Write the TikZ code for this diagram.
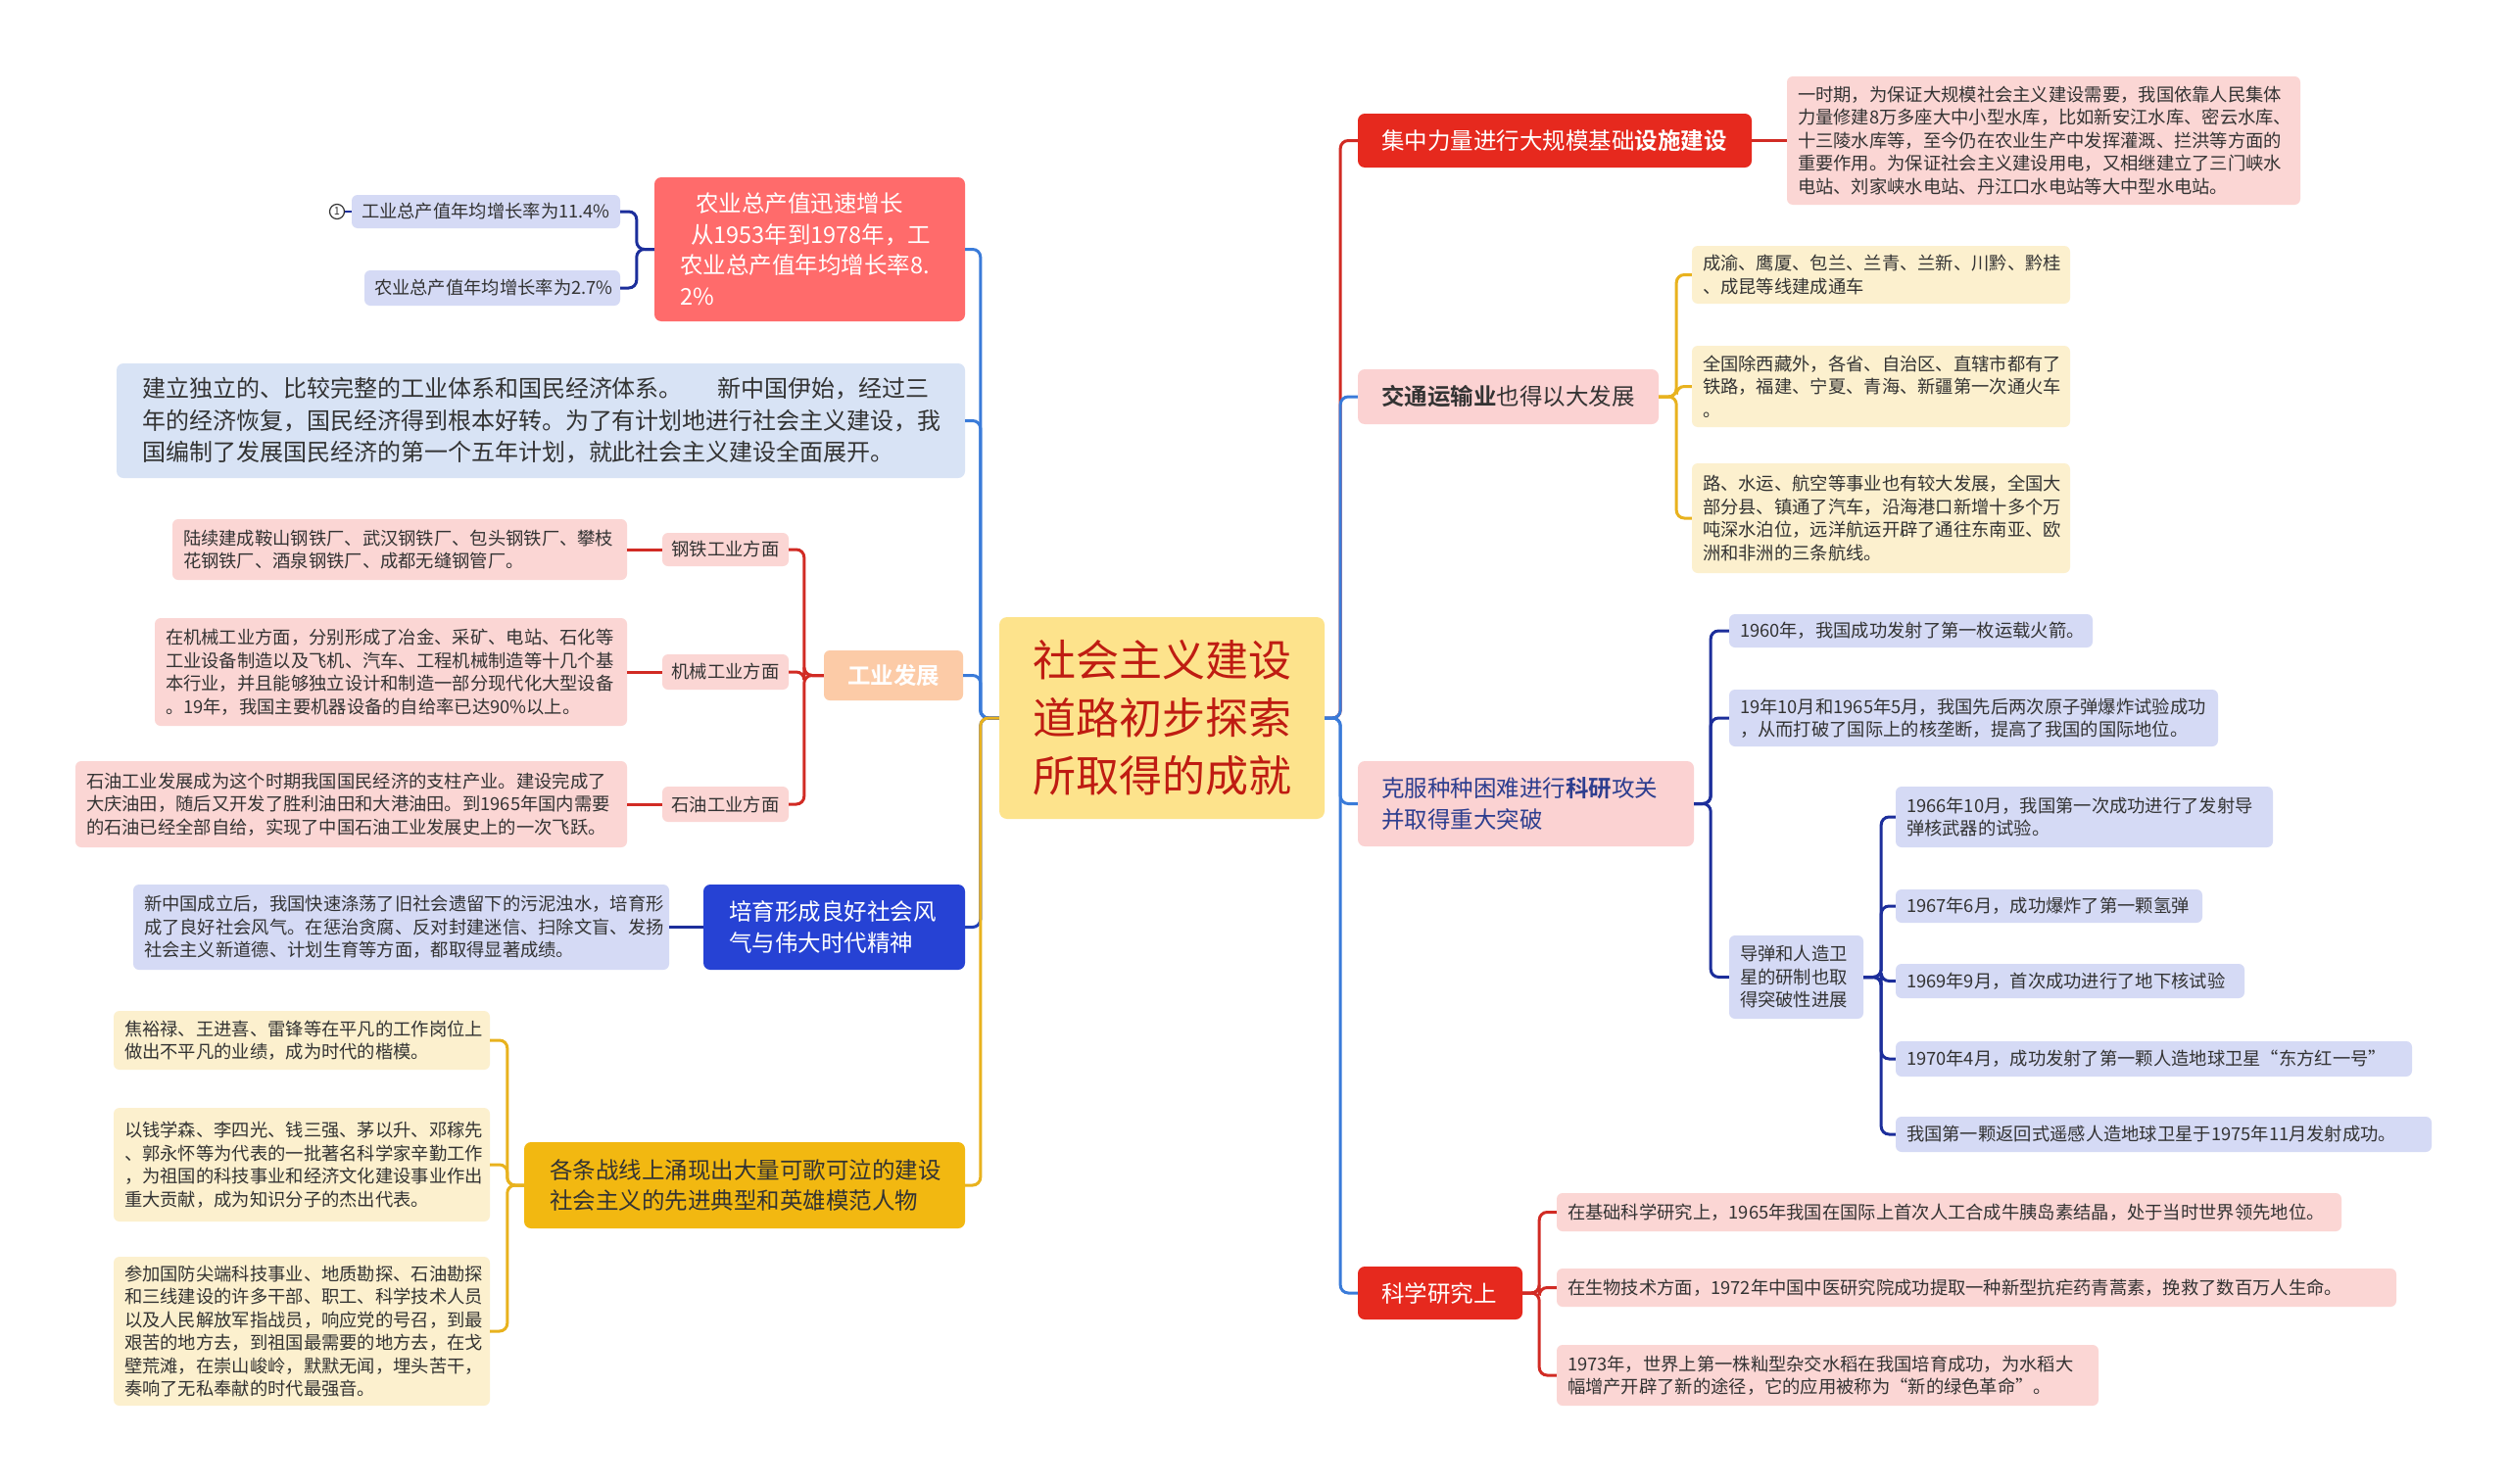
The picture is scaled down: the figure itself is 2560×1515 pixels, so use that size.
\documentclass[tikz,border=0pt]{standalone}
\usepackage{fontspec}
\setmainfont{Noto Sans CJK SC}[BoldFont={Noto Sans CJK SC Bold}]
\definecolor{centerfill}{HTML}{FDE38C}
\definecolor{centertext}{HTML}{BF1C12}
\definecolor{agrifill}{HTML}{FF6B6B}
\definecolor{lightblue}{HTML}{D8E3F5}
\definecolor{lavender}{HTML}{D5DAF5}
\definecolor{peachfill}{HTML}{FCCBA7}
\definecolor{pinkleaf}{HTML}{FBD6D4}
\definecolor{bluebig}{HTML}{2642D4}
\definecolor{goldfill}{HTML}{F2B811}
\definecolor{cream}{HTML}{FCF0CE}
\definecolor{redbig}{HTML}{E6291E}
\definecolor{pinkbig}{HTML}{FBD2D2}
\definecolor{textdark}{HTML}{333333}
\definecolor{kefutext}{HTML}{2D3E8F}
\definecolor{navyline}{HTML}{1C2E9B}
\definecolor{trunkblue}{HTML}{3A7BD9}
\definecolor{redline}{HTML}{D12B24}
\definecolor{goldline}{HTML}{E8B21E}
\definecolor{navytrunk}{HTML}{2040B8}
\newcommand\fsS{\fontsize{18.3}{23.5}\selectfont}
\newcommand\fsM{\fontsize{23.5}{31.5}\selectfont}
\newcommand\fsL{\fontsize{44}{59}\selectfont}
\newcommand\bx[8][10]{%
 \pgfmathsetmacro\bxw{#5-#3}%
 \pgfmathsetmacro\bxh{#6-#4}%
 \pgfmathsetmacro\bxtw{#5-#3-2*#1}%
 \pgfmathsetmacro\bxcx{(#3+#5)/2}%
 \pgfmathsetmacro\bxcy{(#4+#6)/2}%
 \node[#7, inner xsep=#1pt, minimum width=\bxw pt, minimum height=\bxh pt, text width=\bxtw pt] (#2) at (\bxcx,\bxcy) {#8};}
\tikzset{
 base/.style={rounded corners=6pt, inner ysep=0pt, align=left},
 leafpink/.style={base, fill=pinkleaf, text=textdark, font=\fsS},
 leaflav/.style={base, fill=lavender, text=textdark, font=\fsS},
 leafcream/.style={base, fill=cream, text=textdark, font=\fsS},
 midpink/.style={base, fill=pinkleaf, text=textdark, font=\fsS, align=center},
 conn/.style={line width=3pt, rounded corners=8pt},
}
\begin{document}
\begin{tikzpicture}[x=1pt,y=-1pt]
\useasboundingbox (0,0) rectangle (2560,1515);
\fill[white] (0,0) rectangle (2560,1515);

% center
\bx[12]{C}{1020}{630}{1352}{836}{base, rounded corners=8pt, fill=centerfill, text=centertext, font=\fsL, align=center}{社会主义建设\\道路初步探索\\所取得的成就}

% ---------- left side ----------
\bx[26]{L1}{668}{181}{985}{328}{base, rounded corners=7pt, fill=agrifill, text=white, font=\fsM}{\hspace*{16pt}农业总产值迅速增长\\\hspace*{11pt}从1953年到1978年，工\\农业总产值年均增长率8.\\2\%}
\bx[10]{L1a}{359}{199}{633}{233}{leaflav}{工业总产值年均增长率为11.4\%}
\bx[10]{L1b}{372}{276}{633}{312}{leaflav}{农业总产值年均增长率为2.7\%}
\node[circle, draw=textdark, line width=1.2pt, inner sep=0pt, minimum size=15pt, font=\fontsize{11}{11}\selectfont, text=textdark] (N1) at (344,216) {1};

\bx[26]{L2}{119}{371}{985}{488}{base, rounded corners=7pt, fill=lightblue, text=textdark, font=\fontsize{24}{32.5}\selectfont}{建立独立的、比较完整的工业体系和国民经济体系。\hspace{1.5em}新中国伊始，经过三\\年的经济恢复，国民经济得到根本好转。为了有计划地进行社会主义建设，我\\国编制了发展国民经济的第一个五年计划，就此社会主义建设全面展开。}

\bx[10]{L3}{841}{664}{983}{715}{base, fill=peachfill, text=white, font=\fsM\bfseries, align=center}{工业发展}
\bx[6]{L3a}{676}{544}{805}{578}{midpink}{钢铁工业方面}
\bx[6]{L3b}{676}{668}{805}{704}{midpink}{机械工业方面}
\bx[6]{L3c}{676}{803}{805}{839}{midpink}{石油工业方面}
\bx[11]{L3a1}{176}{530}{640}{592}{leafpink}{陆续建成鞍山钢铁厂、武汉钢铁厂、包头钢铁厂、攀枝\\花钢铁厂、酒泉钢铁厂、成都无缝钢管厂。}
\bx[11]{L3b1}{158}{631}{640}{741}{leafpink}{在机械工业方面，分别形成了冶金、采矿、电站、石化等\\工业设备制造以及飞机、汽车、工程机械制造等十几个基\\本行业，并且能够独立设计和制造一部分现代化大型设备\\。19年，我国主要机器设备的自给率已达90\%以上。}
\bx[11]{L3c1}{77}{777}{640}{865}{leafpink}{石油工业发展成为这个时期我国国民经济的支柱产业。建设完成了\\大庆油田，随后又开发了胜利油田和大港油田。到1965年国内需要\\的石油已经全部自给，实现了中国石油工业发展史上的一次飞跃。}

\bx[26]{L4}{718}{903}{985}{990}{base, rounded corners=7pt, fill=bluebig, text=white, font=\fsM}{培育形成良好社会风\\气与伟大时代精神}
\bx[11]{L4a}{136}{903}{683}{990}{leaflav}{新中国成立后，我国快速涤荡了旧社会遗留下的污泥浊水，培育形\\成了良好社会风气。在惩治贪腐、反对封建迷信、扫除文盲、发扬\\社会主义新道德、计划生育等方面，都取得显著成绩。}

\bx[26]{L5}{535}{1166}{985}{1254}{base, rounded corners=7pt, fill=goldfill, text=textdark, font=\fsM}{各条战线上涌现出大量可歌可泣的建设\\社会主义的先进典型和英雄模范人物}
\bx[11]{L5a}{116}{1032}{500}{1092}{leafcream}{焦裕禄、王进喜、雷锋等在平凡的工作岗位上\\做出不平凡的业绩，成为时代的楷模。}
\bx[11]{L5b}{116}{1131}{500}{1247}{leafcream}{以钱学森、李四光、钱三强、茅以升、邓稼先\\、郭永怀等为代表的一批著名科学家辛勤工作\\，为祖国的科技事业和经济文化建设事业作出\\重大贡献，成为知识分子的杰出代表。}
\bx[11]{L5c}{116}{1283}{500}{1435}{leafcream}{参加国防尖端科技事业、地质勘探、石油勘探\\和三线建设的许多干部、职工、科学技术人员\\以及人民解放军指战员，响应党的号召，到最\\艰苦的地方去，到祖国最需要的地方去，在戈\\壁荒滩，在崇山峻岭，默默无闻，埋头苦干，\\奏响了无私奉献的时代最强音。}

% ---------- right side ----------
\bx[24]{R1}{1386}{116}{1788}{171}{base, rounded corners=7pt, fill=redbig, text=white, font=\fsM}{集中力量进行大规模基础\textbf{设施建设}}
\bx[11]{R1a}{1824}{78}{2348}{209}{leafpink}{一时期，为保证大规模社会主义建设需要，我国依靠人民集体\\力量修建8万多座大中小型水库，比如新安江水库、密云水库、\\十三陵水库等，至今仍在农业生产中发挥灌溉、拦洪等方面的\\重要作用。为保证社会主义建设用电，又相继建立了三门峡水\\电站、刘家峡水电站、丹江口水电站等大中型水电站。}

\bx[24]{R2}{1386}{377}{1693}{433}{base, rounded corners=7pt, fill=pinkbig, text=textdark, font=\fsM}{\textbf{交通运输业}也得以大发展}
\bx[11]{R2a}{1727}{251}{2113}{310}{leafcream}{成渝、鹰厦、包兰、兰青、兰新、川黔、黔桂\\、成昆等线建成通车}
\bx[11]{R2b}{1727}{353}{2113}{436}{leafcream}{全国除西藏外，各省、自治区、直辖市都有了\\铁路，福建、宁夏、青海、新疆第一次通火车\\。}
\bx[11]{R2c}{1727}{473}{2113}{585}{leafcream}{路、水运、航空等事业也有较大发展，全国大\\部分县、镇通了汽车，沿海港口新增十多个万\\吨深水泊位，远洋航运开辟了通往东南亚、欧\\洲和非洲的三条航线。}

\bx[24]{R3}{1386}{777}{1729}{864}{base, rounded corners=7pt, fill=pinkbig, text=kefutext, font=\fsM}{克服种种困难进行\textbf{科研}攻关\\并取得重大突破}
\bx[11]{R3a}{1765}{627}{2136}{661}{leaflav}{1960年，我国成功发射了第一枚运载火箭。}
\bx[11]{R3b}{1765}{704}{2264}{762}{leaflav}{19年10月和1965年5月，我国先后两次原子弹爆炸试验成功\\，从而打破了国际上的核垄断，提高了我国的国际地位。}
\bx[11]{R3c}{1765}{955}{1902}{1040}{leaflav}{导弹和人造卫\\星的研制也取\\得突破性进展}
\bx[11]{R3c1}{1935}{803}{2320}{865}{leaflav}{1966年10月，我国第一次成功进行了发射导\\弹核武器的试验。}
\bx[11]{R3c2}{1935}{908}{2248}{942}{leaflav}{1967年6月，成功爆炸了第一颗氢弹}
\bx[11]{R3c3}{1935}{984}{2291}{1019}{leaflav}{1969年9月，首次成功进行了地下核试验}
\bx[11]{R3c4}{1935}{1063}{2462}{1099}{leaflav}{1970年4月，成功发射了第一颗人造地球卫星“东方红一号”}
\bx[11]{R3c5}{1935}{1140}{2482}{1176}{leaflav}{我国第一颗返回式遥感人造地球卫星于1975年11月发射成功。}

\bx[24]{R4}{1386}{1293}{1554}{1347}{base, rounded corners=7pt, fill=redbig, text=white, font=\fsM}{科学研究上}
\bx[11]{R4a}{1589}{1218}{2390}{1257}{leafpink}{在基础科学研究上，1965年我国在国际上首次人工合成牛胰岛素结晶，处于当时世界领先地位。}
\bx[11]{R4b}{1589}{1295}{2446}{1334}{leafpink}{在生物技术方面，1972年中国中医研究院成功提取一种新型抗疟药青蒿素，挽救了数百万人生命。}
\bx[11]{R4c}{1589}{1373}{2142}{1435}{leafpink}{1973年，世界上第一株籼型杂交水稻在我国培育成功，为水稻大\\幅增产开辟了新的途径，它的应用被称为“新的绿色革命”。}

% ---------- connectors ----------
\draw[conn, trunkblue] (C.west) -- ++(-19,0) |- (L1.east);
\draw[conn, trunkblue] (C.west) -- ++(-19,0) |- (L2.east);
\draw[conn, trunkblue] (C.west) -- ++(-19,0) |- (L3.east);
\draw[conn, navytrunk] (C.west) -- ++(-19,0) |- (L4.east);
\draw[conn, goldline] (C.west) -- ++(-19,0) |- (L5.east);

\draw[conn, redline] (C.east) -- ++(16,0) |- (R1.west);
\draw[conn, trunkblue] (C.east) -- ++(16,0) |- (R2.west);
\draw[conn, trunkblue] (C.east) -- ++(16,0) |- (R3.west);
\draw[conn, trunkblue] (C.east) -- ++(16,0) |- (R4.west);

\draw[conn, navyline] (L1.west) -- ++(-18,0) |- (L1a.east);
\draw[conn, navyline] (L1.west) -- ++(-18,0) |- (L1b.east);
\draw[navyline, line width=2pt] (N1.east) -- (L1a.west);

\draw[conn, redline] (L3.west) -- ++(-20,0) |- (L3a.east);
\draw[conn, redline] (L3.west) -- ++(-20,0) |- (L3b.east);
\draw[conn, redline] (L3.west) -- ++(-20,0) |- (L3c.east);
\draw[conn, redline] (L3a.west) -- (L3a1.east);
\draw[conn, redline] (L3b.west) -- (L3b1.east);
\draw[conn, redline] (L3c.west) -- (L3c1.east);

\draw[conn, navyline] (L4.west) -- (L4a.east);

\draw[conn, goldline] (L5.west) -- ++(-17,0) |- (L5a.east);
\draw[conn, goldline] (L5.west) -- ++(-17,0) |- (L5b.east);
\draw[conn, goldline] (L5.west) -- ++(-17,0) |- (L5c.east);

\draw[conn, redline] (R1.east) -- (R1a.west);

\draw[conn, goldline] (R2.east) -- ++(18,0) |- (R2a.west);
\draw[conn, goldline] (R2.east) -- ++(18,0) |- (R2b.west);
\draw[conn, goldline] (R2.east) -- ++(18,0) |- (R2c.west);

\draw[conn, navyline] (R3.east) -- ++(17,0) |- (R3a.west);
\draw[conn, navyline] (R3.east) -- ++(17,0) |- (R3b.west);
\draw[conn, navyline] (R3.east) -- ++(17,0) |- (R3c.west);

\draw[conn, navyline] (R3c.east) -- ++(18,0) |- (R3c1.west);
\draw[conn, navyline] (R3c.east) -- ++(18,0) |- (R3c2.west);
\draw[conn, navyline] (R3c.east) -- ++(18,0) |- (R3c3.west);
\draw[conn, navyline] (R3c.east) -- ++(18,0) |- (R3c4.west);
\draw[conn, navyline] (R3c.east) -- ++(18,0) |- (R3c5.west);

\draw[conn, redline] (R4.east) -- ++(17,0) |- (R4a.west);
\draw[conn, redline] (R4.east) -- ++(17,0) |- (R4b.west);
\draw[conn, redline] (R4.east) -- ++(17,0) |- (R4c.west);
\end{tikzpicture}
\end{document}
